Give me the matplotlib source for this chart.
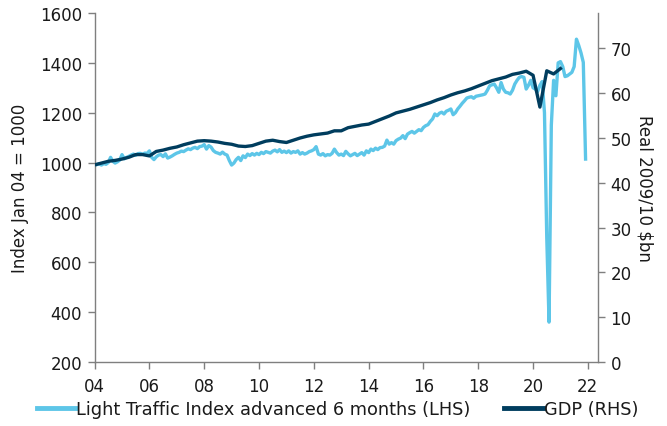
import numpy as np
import matplotlib
matplotlib.use("Agg")
import matplotlib.pyplot as plt
from matplotlib.lines import Line2D

# ---------------- data ----------------
# Light Traffic Index advanced 6 months (LHS), monthly from Jan 2004
lti_2004 = [988, 992, 995, 990, 996, 993, 1000, 1021, 1005, 998, 1003, 1010]
lti_2005 = [1032, 1015, 1021, 1025, 1030, 1034, 1029, 1036, 1037, 1033, 1038, 1037]
lti_2006 = [1047, 1021, 1012, 1023, 1030, 1032, 1024, 1035, 1018, 1022, 1027, 1033]
lti_2007 = [1038, 1041, 1046, 1044, 1050, 1055, 1052, 1058, 1061, 1056, 1064, 1066]
lti_2008 = [1072, 1054, 1068, 1062, 1048, 1041, 1038, 1034, 1042, 1034, 1030, 1008]
lti_2009 = [990, 998, 1012, 1021, 1008, 1027, 1020, 1034, 1028, 1036, 1030, 1037]
lti_2010 = [1032, 1041, 1036, 1044, 1041, 1038, 1046, 1050, 1043, 1052, 1041, 1046]
lti_2011 = [1040, 1047, 1038, 1044, 1041, 1047, 1034, 1040, 1034, 1038, 1044, 1047]
lti_2012 = [1052, 1064, 1034, 1030, 1036, 1027, 1032, 1030, 1037, 1054, 1040, 1030]
lti_2013 = [1034, 1028, 1045, 1035, 1027, 1032, 1037, 1028, 1034, 1040, 1030, 1047]
lti_2014 = [1040, 1054, 1048, 1058, 1052, 1060, 1061, 1066, 1090, 1074, 1080, 1074]
lti_2015 = [1088, 1094, 1098, 1108, 1096, 1114, 1120, 1125, 1118, 1125, 1132, 1128]
lti_2016 = [1141, 1148, 1152, 1165, 1175, 1195, 1188, 1198, 1202, 1195, 1206, 1210]
lti_2017 = [1215, 1192, 1200, 1215, 1226, 1238, 1248, 1259, 1262, 1264, 1258, 1266]
lti_2018 = [1268, 1270, 1272, 1275, 1290, 1308, 1312, 1315, 1300, 1282, 1321, 1295]
lti_2019 = [1282, 1280, 1275, 1290, 1315, 1330, 1342, 1345, 1342, 1295, 1310, 1330]
lti_2020 = [1300, 1295, 1285, 1310, 1325, 1200, 700, 360, 1150, 1330, 1268, 1400]
lti_2021 = [1405, 1385, 1345, 1348, 1355, 1362, 1385, 1495, 1470, 1440, 1402, 1014]
lti_start = 2004.0

# GDP (RHS), quarterly from 2004 Q1, real 2009/10 $bn
gdp_values = [44.0, 44.4, 44.8, 45.0,
              45.3, 45.7, 46.3, 46.3,
              46.0, 47.0, 47.3, 47.7,
              48.0, 48.5, 48.9, 49.3,
              49.4, 49.3, 49.1, 48.8,
              48.6, 48.2, 48.1, 48.3,
              48.8, 49.3, 49.5, 49.2,
              49.0, 49.5, 50.0, 50.4,
              50.7, 50.9, 51.1, 51.6,
              51.6, 52.3, 52.6, 52.9,
              53.1, 53.7, 54.3, 54.9,
              55.6, 56.0, 56.4, 56.9,
              57.4, 57.9, 58.5, 59.0,
              59.6, 60.1, 60.5, 61.0,
              61.6, 62.2, 62.8, 63.2,
              63.6, 64.2, 64.5, 64.9,
              64.0, 56.9, 65.0, 64.3,
              65.5]
gdp_start = 2004.0

x_ticks = list(range(2004, 2023, 2))
x_tick_labels = ["04", "06", "08", "10", "12", "14", "16", "18", "20", "22"]
left_ticks = [200, 400, 600, 800, 1000, 1200, 1400, 1600]
right_ticks = [0, 10, 20, 30, 40, 50, 60, 70]

lti_label = "Light Traffic Index advanced 6 months (LHS)"
gdp_label = "GDP (RHS)"
left_title = "Index Jan 04 = 1000"
right_title = "Real 2009/10 $bn"

# ---------------- build series ----------------
lti = np.array(lti_2004 + lti_2005 + lti_2006 + lti_2007 + lti_2008 + lti_2009 +
               lti_2010 + lti_2011 + lti_2012 + lti_2013 + lti_2014 + lti_2015 +
               lti_2016 + lti_2017 + lti_2018 + lti_2019 + lti_2020 + lti_2021, dtype=float)
lti_x = lti_start + np.arange(len(lti)) / 12.0
gdp = np.array(gdp_values, dtype=float)
gdp_x = gdp_start + np.arange(len(gdp)) / 4.0

# ---------------- style ----------------
LIGHT = "#5DC6E8"
DARK = "#003D5E"
SPINE = "#7f7f7f"
TXT = "#1a1a1a"
FS = 12

plt.rcParams["font.family"] = ["DejaVu Sans"]

fig = plt.figure(figsize=(6.67, 4.27), dpi=100)
ax = fig.add_axes([94.6 / 667, 64 / 427, (598 - 94.6) / 667, (363 - 14) / 427])
ax2 = ax.twinx()

ax.plot(lti_x, lti, color=LIGHT, lw=2.4, solid_joinstyle="round", zorder=2)
ax2.plot(gdp_x, gdp, color=DARK, lw=2.4, solid_joinstyle="round", zorder=3)

ax.set_xlim(2004, 2022.37)
ax.set_ylim(200, 1600)
ax2.set_ylim(0, 77.9)

ax.set_xticks(x_ticks)
ax.set_xticklabels(x_tick_labels)
ax.set_yticks(left_ticks)
ax2.set_yticks(right_ticks)

for a in (ax, ax2):
    a.spines["top"].set_visible(False)
    for s in ("left", "right", "bottom"):
        a.spines[s].set_color(SPINE)
        a.spines[s].set_linewidth(1.0)
    a.tick_params(direction="out", length=5, width=1, color=SPINE,
                  labelsize=FS, labelcolor=TXT)
ax.tick_params(axis="x", pad=6)
ax.tick_params(axis="y", pad=4)
ax2.tick_params(axis="y", pad=4)
ax.spines["right"].set_visible(False)
ax2.spines["left"].set_visible(False)
ax2.spines["bottom"].set_visible(False)

ax.set_ylabel(left_title, fontsize=FS, color=TXT, labelpad=8)
ax2.set_ylabel(right_title, fontsize=FS, color=TXT, rotation=270, labelpad=16)

ax.set_zorder(ax2.get_zorder() - 1)
ax.patch.set_visible(True)
ax2.patch.set_visible(False)

handles = [Line2D([], [], color=LIGHT, lw=3.5),
           Line2D([], [], color=DARK, lw=3.5)]
fig.legend(handles, [lti_label, gdp_label], loc="center",
           bbox_to_anchor=(0.506, 1 - 410 / 427), ncol=2, frameon=False,
           fontsize=12.8, handlelength=2.2, handletextpad=0.02,
           columnspacing=1.9, labelcolor=TXT)

fig.savefig("out.png", dpi=100)
